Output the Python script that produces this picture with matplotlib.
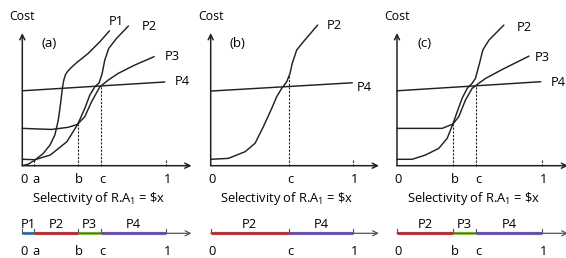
import numpy as np
import matplotlib.pyplot as plt

plt.rcParams['font.family'] = ['Open Sans', 'DejaVu Sans']
plt.rcParams['mathtext.default'] = 'regular'

W, H = 566, 258
BASE_Y = 165.7   # pixel row of the cost axes' x axis
SY = 133.3       # pixels per cost unit
STRIP_Y = 233.3  # pixel row of the selectivity strips

# breakpoints on the selectivity axis
sel_a = 0.084
sel_b = 0.386
sel_c = 0.548

# panel (a)
a_p1_sel = [0, 0.042, 0.088, 0.146, 0.193, 0.227, 0.251, 0.267, 0.281, 0.29, 0.302, 0.318, 0.34, 0.378, 0.459, 0.541, 0.608]
a_p1_cost = [0, 0.012, 0.042, 0.092, 0.155, 0.23, 0.342, 0.468, 0.592, 0.645, 0.685, 0.71, 0.735, 0.772, 0.842, 0.93, 1.012]
a_p2_sel = [0, 0.088, 0.195, 0.311, 0.387, 0.436, 0.471, 0.506, 0.536, 0.557, 0.575, 0.603, 0.657, 0.740]
a_p2_cost = [0.048, 0.045, 0.08, 0.18, 0.312, 0.43, 0.53, 0.592, 0.622, 0.692, 0.792, 0.88, 0.955, 1.048]
a_p3_sel = [0, 0.204, 0.32, 0.385, 0.436, 0.483, 0.541, 0.599, 0.668, 0.784, 0.919]
a_p3_cost = [0.28, 0.272, 0.288, 0.31, 0.368, 0.48, 0.592, 0.642, 0.692, 0.755, 0.818]
a_p4_sel = [0, 0.993]
a_p4_cost = [0.562, 0.628]

# panel (b)
b_p2_sel = [0, 0.124, 0.241, 0.311, 0.369, 0.428, 0.463, 0.498, 0.533, 0.556, 0.572, 0.603, 0.650, 0.750]
b_p2_cost = [0.048, 0.055, 0.105, 0.168, 0.292, 0.43, 0.518, 0.58, 0.63, 0.692, 0.768, 0.868, 0.93, 1.055]
b_p4_sel = [0, 0.993]
b_p4_cost = [0.56, 0.622]

# panel (c)
c_p2_sel = [0, 0.104, 0.196, 0.288, 0.346, 0.385, 0.415, 0.449, 0.484, 0.518, 0.541, 0.569, 0.592, 0.634, 0.737]
c_p2_cost = [0.048, 0.048, 0.08, 0.13, 0.205, 0.312, 0.405, 0.505, 0.58, 0.618, 0.655, 0.768, 0.868, 0.942, 1.055]
c_p3_sel = [0, 0.311, 0.385, 0.426, 0.472, 0.518, 0.548, 0.611, 0.726, 0.910]
c_p3_cost = [0.28, 0.28, 0.312, 0.368, 0.492, 0.58, 0.605, 0.655, 0.722, 0.822]
c_p4_sel = [0, 0.991]
c_p4_cost = [0.562, 0.63]

plan_colors = {'P1': '#4a86cc', 'P2': '#cc3535', 'P3': '#92c843', 'P4': '#7a5ec6'}
INK = '#222222'
FS = 9.3


def add_px_axes(fig, left, right, top, bottom):
    ax = fig.add_axes([left / W, 1 - bottom / H, (right - left) / W, (bottom - top) / H])
    ax.set_axis_off()
    ax.patch.set_alpha(0)
    return ax


def arrow(ax, x0, y0, x1, y1, color=INK, lw=1.1):
    ax.annotate('', xy=(x1, y1), xytext=(x0, y0),
                arrowprops=dict(arrowstyle='->', lw=lw, color=color,
                                shrinkA=0, shrinkB=0, mutation_scale=9))


def draw_panel(fig, ox, sx, tag, curves, drops, ticks, segments):
    # upper cost plot
    left, right, top, bottom = ox - 22, ox + 175, 0, 212
    ax = add_px_axes(fig, left, right, top, bottom)
    ax.set_xlim((left - ox) / sx, (right - ox) / sx)
    ax.set_ylim((BASE_Y - bottom) / SY, (BASE_Y - top) / SY)

    arrow(ax, 0, 0, 0, 0.995)
    arrow(ax, 0, 0, 1.18, 0)
    ax.text(0, 1.118, 'Cost', ha='center', va='center', fontsize=FS - 0.5)
    ax.text(0.19, 0.915, f'({tag})', ha='center', va='center', fontsize=FS + 0.3)

    for name, xs, ys, off in curves:
        ax.plot(xs, ys, color=INK, lw=1.05, solid_capstyle='round', solid_joinstyle='round')
        ax.annotate(name, xy=(xs[-1], ys[-1]), xytext=off, textcoords='offset pixels',
                    ha='center', va='center', fontsize=FS)

    for x, xs, ys in drops:
        ax.plot([x, x], [0, np.interp(x, xs, ys)], color=INK, lw=0.8, ls=(0, (2, 1.3)))
    ax.plot([1, 1], [0, 0.04], color=INK, lw=0.8, ls=(0, (2, 1.3)))

    for lab, x in ticks:
        ax.text(x + 1.5 / sx, -0.107, lab, ha='center', va='center', fontsize=FS)
    ax.text(0.53, -0.245, r'Selectivity of R.A$_1$ = \$x', ha='center', va='center', fontsize=FS)

    # lower strip of winning plans
    s_top, s_bottom = 212, 258
    sax = add_px_axes(fig, left, right, s_top, s_bottom)
    sax.set_xlim((left - ox) / sx, (right - ox) / sx)
    sax.set_ylim(STRIP_Y - s_bottom, STRIP_Y - s_top)
    arrow(sax, 0, 0, 1.18, 0, color='#555555', lw=0.9)
    for name, x0, x1 in segments:
        sax.plot([x0, x1], [0, 0], color=plan_colors[name], lw=2.3, solid_capstyle='butt')
        sax.text((x0 + x1) / 2, 8.5, name, ha='center', va='center', fontsize=FS)
    for lab, x in ticks:
        sax.plot([x, x], [0, 4], color='#555555', lw=0.8)
        sax.text(x + 1.5 / sx, -18.4, lab, ha='center', va='center', fontsize=FS)


fig = plt.figure(figsize=(W / 100, H / 100), dpi=100)

draw_panel(fig, 22.3, 143.4, 'a',
           curves=[('P1', a_p1_sel, a_p1_cost, (6.5, 9)),
                   ('P2', a_p2_sel, a_p2_cost, (21, -0.7)),
                   ('P3', a_p3_sel, a_p3_cost, (18, 0)),
                   ('P4', a_p4_sel, a_p4_cost, (18, 0))],
           drops=[(sel_a, a_p2_sel, a_p2_cost), (sel_b, a_p3_sel, a_p3_cost),
                  (sel_c, a_p3_sel, a_p3_cost)],
           ticks=[('0', 0), ('a', sel_a), ('b', sel_b), ('c', sel_c), ('1', 1)],
           segments=[('P1', 0, sel_a), ('P2', sel_a, sel_b), ('P3', sel_b, sel_c), ('P4', sel_c, 1)])

draw_panel(fig, 210.7, 142.6, 'b',
           curves=[('P2', b_p2_sel, b_p2_cost, (17, -0.7)),
                   ('P4', b_p4_sel, b_p4_cost, (12, -5))],
           drops=[(sel_c, b_p2_sel, b_p2_cost)],
           ticks=[('0', 0), ('c', sel_c), ('1', 1)],
           segments=[('P2', 0, sel_c), ('P4', sel_c, 1)])

draw_panel(fig, 397.0, 145.0, 'c',
           curves=[('P2', c_p2_sel, c_p2_cost, (20, -2)),
                   ('P3', c_p3_sel, c_p3_cost, (13.6, -1.3)),
                   ('P4', c_p4_sel, c_p4_cost, (18, -1))],
           drops=[(sel_b, c_p3_sel, c_p3_cost), (sel_c, c_p3_sel, c_p3_cost)],
           ticks=[('0', 0), ('b', sel_b), ('c', sel_c), ('1', 1)],
           segments=[('P2', 0, sel_b), ('P3', sel_b, sel_c), ('P4', sel_c, 1)])

fig.savefig('out.png', dpi=100)
